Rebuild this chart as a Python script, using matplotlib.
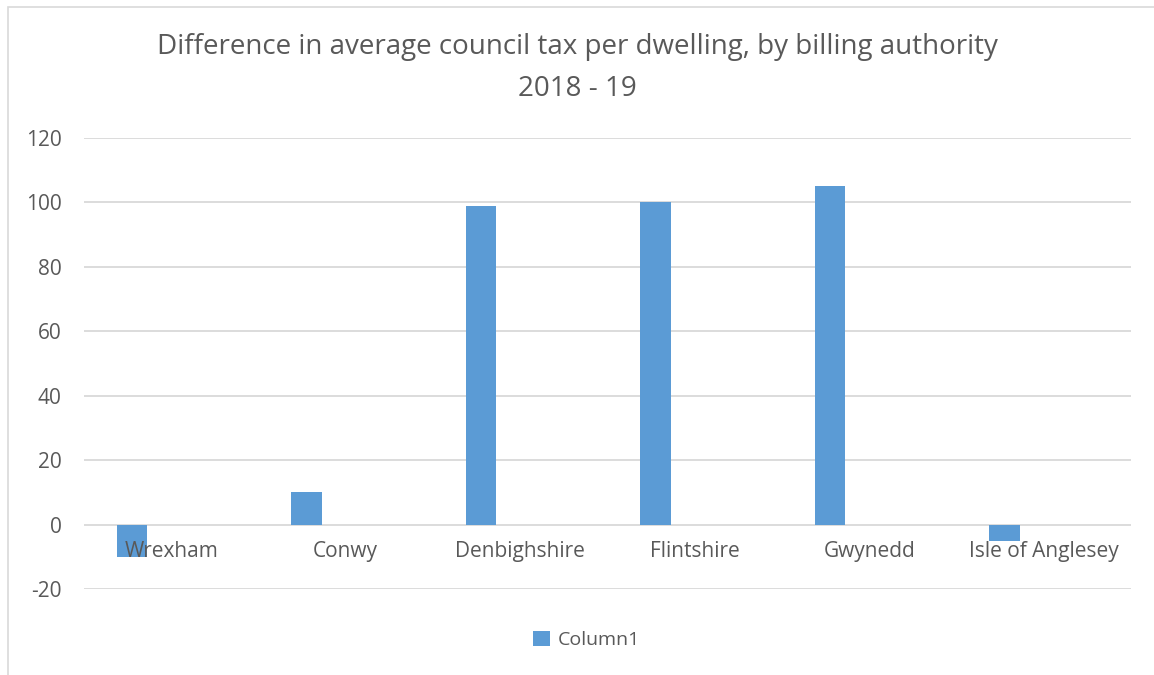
import numpy as np
import matplotlib.pyplot as plt
from matplotlib.patches import Rectangle

# данные
areas = ["Wrexham", "Conwy", "Denbighshire", "Flintshire", "Gwynedd", "Isle of Anglesey"]
diff = [-10, 10, 99, 100, 105, -5]
series_name = "Column1"
y_ticks = [-20, 0, 20, 40, 60, 80, 100, 120]

plt.rcParams['font.family'] = ['Open Sans', 'DejaVu Sans']
plt.rcParams['axes.unicode_minus'] = False
grey_txt = "#595959"
grid_c = "#D9D9D9"
bar_c = "#5B9BD5"

fig = plt.figure(figsize=(11.54, 6.75), dpi=100)
fig.patches.append(Rectangle((8/1154, -0.1), 1.2, (1 - 7/675) + 0.1, transform=fig.transFigure,
                             fill=False, edgecolor=grid_c, linewidth=1.2))
ax = fig.add_axes([84/1154, 1 - 589/675, (1131 - 84)/1154, (589 - 138)/675])

x = np.arange(len(areas))
ax.bar(x - 0.225, diff, width=0.175, color=bar_c, label=series_name, zorder=3)

ax.set_xlim(-0.5, len(areas) - 0.5)
ax.set_ylim(-20, 120)
ax.set_yticks(y_ticks)
ax.yaxis.grid(True, color=grid_c, linewidth=1.3, zorder=0)
ax.set_axisbelow(True)
for s in ax.spines.values():
    s.set_visible(False)
ax.set_xticks([])
ax.tick_params(axis='y', length=0, pad=16, labelsize=15, labelcolor=grey_txt)

# подписи категорий у нулевой линии, поверх столбцов
for xi, name in zip(x, areas):
    ax.annotate(name, (xi, 0), xytext=(0, -12), textcoords='offset points',
                ha='center', va='top', fontsize=15, color=grey_txt, zorder=5)

fig.suptitle("Difference in average council tax per dwelling, by billing authority\n2018 - 19",
             y=1 - 33/675, fontsize=20, color=grey_txt, linespacing=1.65)

ax.legend(loc='center', bbox_to_anchor=(0.48, -0.113), frameon=False, fontsize=14,
          labelcolor=grey_txt, handlelength=0.85, handleheight=0.85, handletextpad=0.4)

fig.savefig("out.png", dpi=100)
